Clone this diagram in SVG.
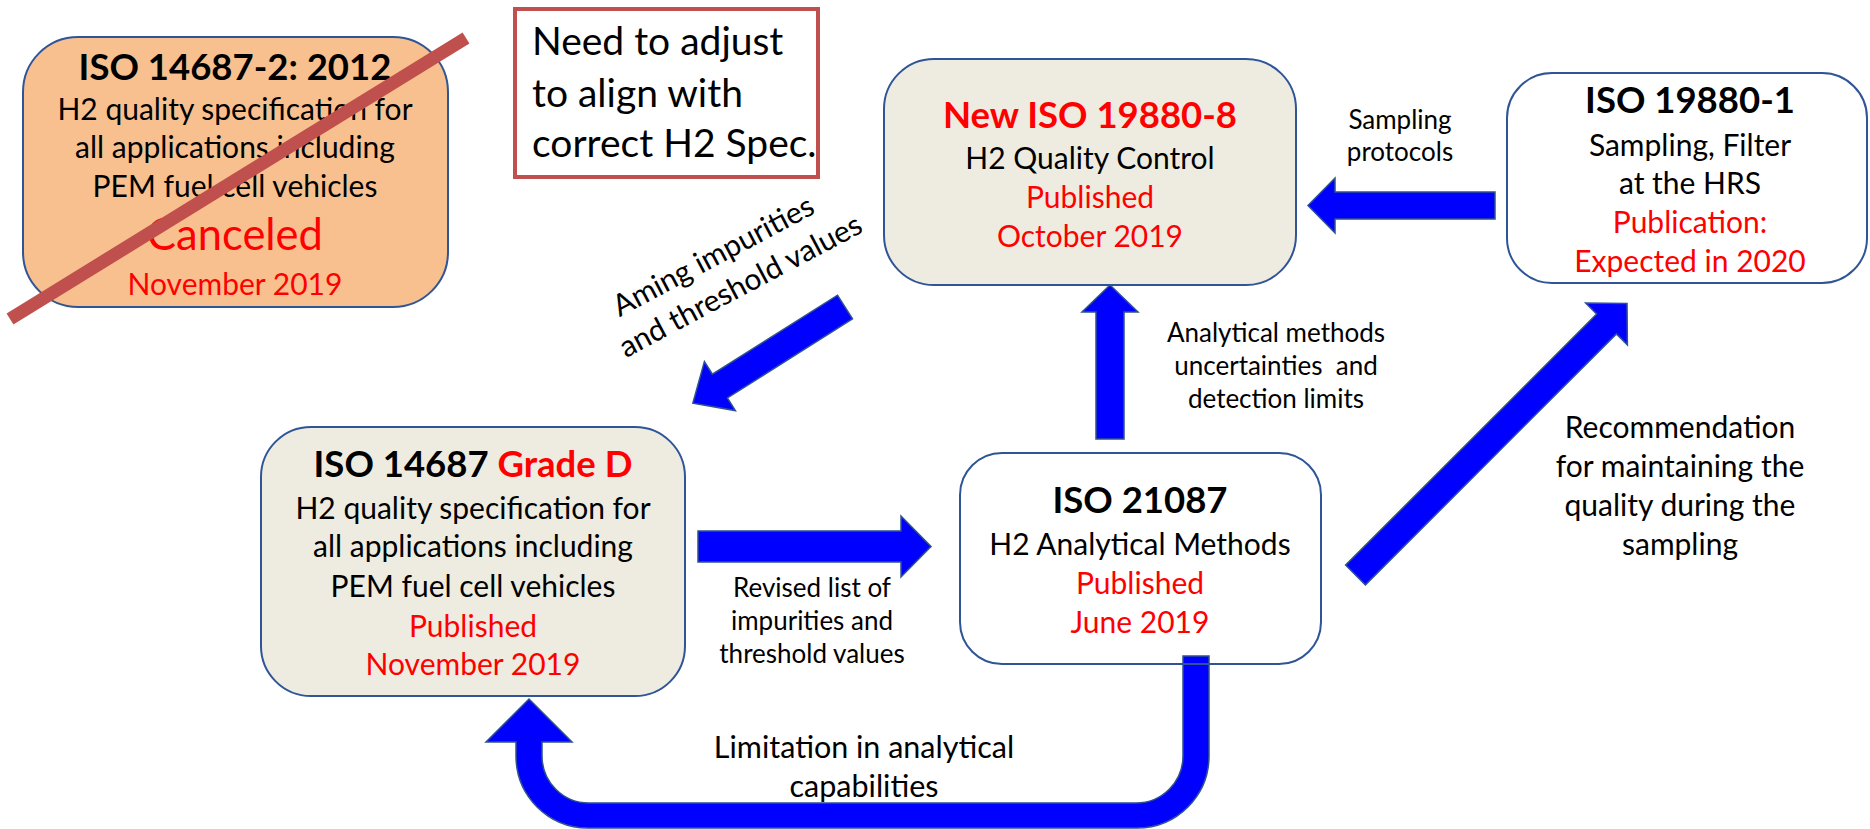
<svg xmlns="http://www.w3.org/2000/svg" width="1870" height="829" viewBox="0 0 1870 829">
<style>
text{font-family:Lato,"Liberation Sans",sans-serif;text-anchor:middle;fill:#000}
.t{font-weight:bold;font-size:36.5px}
.b{font-size:30px}
.s{font-size:26px}
.r{fill:#FF0000}
.box{stroke:#2F5597;stroke-width:2}
.arr{fill:#0000FF;stroke:#2F528F;stroke-width:1.5;stroke-linejoin:miter}
</style>
<rect width="1870" height="829" fill="#FFFFFF"/>
<g id="connectors">
  <polygon class="arr" points="0,-14 148,-14 148,-29 180,0 148,29 148,14 0,14" transform="translate(845,307) rotate(147.7)"/>
  <polygon class="arr" points="0,-15.5 203,-15.5 203,-30.5 233,0 203,30.5 203,15.5 0,15.5" transform="translate(698,546.5)"/>
  <polygon class="arr" points="0,-14 127,-14 127,-28 154,0 127,28 127,14 0,14" transform="translate(1110,439) rotate(-90)"/>
  <polygon class="arr" points="0,-13.5 160,-13.5 160,-27.5 187,0 160,27.5 160,13.5 0,13.5" transform="translate(1495,205.5) rotate(180)"/>
  <polygon class="arr" points="0,-14 355,-14 355,-29.5 384,0 355,29.5 355,14 0,14" transform="translate(1355.5,575) rotate(-45)"/>
  <path class="arr" d="M1183,656 L1183,756 A47,47 0 0 1 1136,803 L589,803 A47,47 0 0 1 542,756 L542,742 L572,742 L529,699 L486,742 L516,742 L516,756 A72,72 0 0 0 588,828 L1137,828 A72,72 0 0 0 1209,756 L1209,656 Z"/>
  <text transform="translate(718,265) rotate(-28)" style="font-size:30px"><tspan x="0" y="0">Aming impurities</tspan><tspan x="10" y="39">and threshold values</tspan></text>
  <text class="s"><tspan x="812" y="597">Revised list of</tspan><tspan x="812" y="630">impurities and</tspan><tspan x="812" y="663">threshold values</tspan></text>
  <text class="s" style="white-space:pre"><tspan x="1276" y="342">Analytical methods</tspan><tspan x="1276" y="375">uncertainties  and</tspan><tspan x="1276" y="408">detection limits</tspan></text>
  <text class="s"><tspan x="1400" y="129">Sampling</tspan><tspan x="1400" y="161">protocols</tspan></text>
  <text class="b"><tspan x="1680" y="438">Recommendation</tspan><tspan x="1680" y="477">for maintaining the</tspan><tspan x="1680" y="516">quality during the</tspan><tspan x="1680" y="555">sampling</tspan></text>
  <text style="font-size:30.5px"><tspan x="864" y="758">Limitation in analytical</tspan><tspan x="864" y="797">capabilities</tspan></text>
</g>
<g id="node-iso14687-2">
  <rect class="box" x="23" y="37" width="425" height="270" rx="55" fill="#F8C08F"/>
  <text class="t" x="235" y="80">ISO 14687-2: 2012</text>
  <text class="b"><tspan x="235" y="120">H2 quality specification for</tspan><tspan x="235" y="158">all applications including</tspan><tspan x="235" y="197">PEM fuel cell vehicles</tspan></text>
  <text class="r" x="235" y="250" style="font-size:43.5px">Canceled</text>
  <text class="b r" x="235" y="295">November 2019</text>
  <line x1="10" y1="319" x2="466" y2="38" stroke="#C0504D" stroke-width="13"/>
</g>
<g id="node-note">
  <rect x="515" y="9" width="303" height="168" fill="#FFFFFF" stroke="#C0504D" stroke-width="4"/>
  <text style="font-size:39px;text-anchor:start"><tspan x="532" y="55">Need to adjust</tspan><tspan x="532" y="107">to align with</tspan><tspan x="532" y="157">correct H2 Spec.</tspan></text>
</g>
<g id="node-iso19880-8">
  <rect class="box" x="884" y="59" width="412" height="226" rx="50" fill="#EEECE1"/>
  <text class="t r" x="1090" y="128">New ISO 19880-8</text>
  <text class="b" x="1090" y="169">H2 Quality Control</text>
  <text class="b r"><tspan x="1090" y="208">Published</tspan><tspan x="1090" y="247">October 2019</tspan></text>
</g>
<g id="node-iso19880-1">
  <rect class="box" x="1507" y="73" width="360" height="210" rx="45" fill="#FFFFFF"/>
  <text class="t" x="1690" y="113">ISO 19880-1</text>
  <text class="b"><tspan x="1690" y="156">Sampling, Filter</tspan><tspan x="1690" y="194">at the HRS</tspan></text>
  <text class="b r"><tspan x="1690" y="233">Publication:</tspan><tspan x="1690" y="272">Expected in 2020</tspan></text>
</g>
<g id="node-iso14687-d">
  <rect class="box" x="261" y="427" width="424" height="269" rx="50" fill="#EEECE1"/>
  <text class="t" x="473" y="477">ISO 14687 <tspan class="r">Grade D</tspan></text>
  <text class="b"><tspan x="473" y="519">H2 quality specification for</tspan><tspan x="473" y="557">all applications including</tspan><tspan x="473" y="597">PEM fuel cell vehicles</tspan></text>
  <text class="b r"><tspan x="473" y="637">Published</tspan><tspan x="473" y="675">November 2019</tspan></text>
</g>
<g id="node-iso21087">
  <rect class="box" x="960" y="453" width="361" height="211" rx="42" fill="none"/>
  <text class="t" x="1140" y="513">ISO 21087</text>
  <text class="b" x="1140" y="555">H2 Analytical Methods</text>
  <text class="b r"><tspan x="1140" y="594">Published</tspan><tspan x="1140" y="633">June 2019</tspan></text>
</g>
</svg>
